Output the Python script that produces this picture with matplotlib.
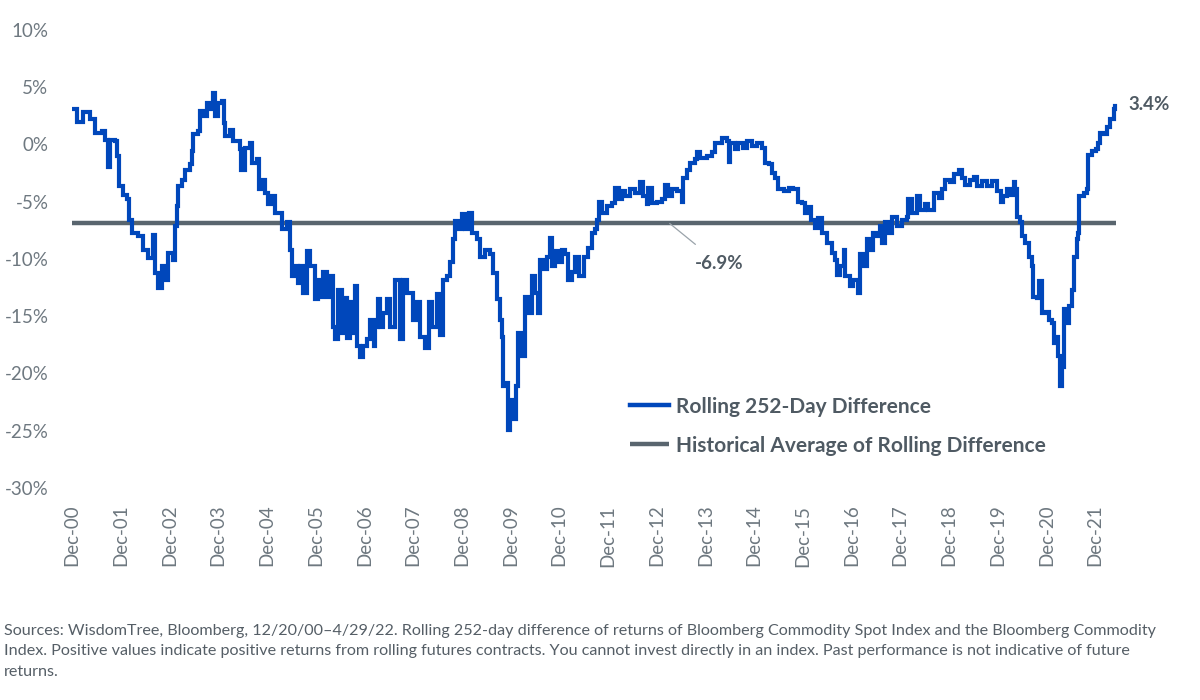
import matplotlib
matplotlib.use("Agg")
import matplotlib.pyplot as plt
import numpy as np

# ---- data (decimal year, rolling 252-day difference in %) ----
dates = [
    2000.98, 2001.07, 2001.20, 2001.34, 2001.44, 2001.58, 2001.65, 2001.70, 2001.75, 2001.85,
    2001.89, 2001.94, 2002.02, 2002.09, 2002.13, 2002.20, 2002.33, 2002.43, 2002.54, 2002.64,
    2002.67, 2002.74, 2002.81, 2002.88, 2002.95, 2003.05, 2003.09, 2003.12, 2003.15, 2003.22,
    2003.29, 2003.39, 2003.43, 2003.46, 2003.56, 2003.60, 2003.67, 2003.74, 2003.80, 2003.86,
    2003.91, 2003.97, 2004.04, 2004.08, 2004.11, 2004.21, 2004.28, 2004.42, 2004.44, 2004.52,
    2004.62, 2004.66, 2004.76, 2004.80, 2004.87, 2004.93, 2005.00, 2005.07, 2005.14, 2005.24,
    2005.28, 2005.38, 2005.45, 2005.48, 2005.55, 2005.60,
    2005.65, 2005.72, 2005.79, 2005.86, 2005.96, 2006.03, 2006.10, 2006.13, 2006.20, 2006.27,
    2006.32, 2006.37, 2006.44, 2006.51, 2006.58, 2006.61, 2006.68, 2006.71, 2006.78, 2006.82,
    2006.88, 2006.95, 2007.02, 2007.09, 2007.16, 2007.19, 2007.26, 2007.29, 2007.36, 2007.43,
    2007.50, 2007.60, 2007.70, 2007.77, 2007.84, 2007.91, 2007.98, 2008.05, 2008.12, 2008.22,
    2008.29, 2008.36, 2008.46, 2008.53, 2008.59, 2008.66, 2008.73, 2008.80, 2008.83, 2008.90,
    2008.97, 2009.04, 2009.11, 2009.18, 2009.28, 2009.35, 2009.45, 2009.55, 2009.62, 2009.69,
    2009.76, 2009.79, 2009.82, 2009.89, 2009.93, 2009.96, 2010.03, 2010.09, 2010.13, 2010.20,
    2010.27, 2010.34, 2010.41, 2010.48, 2010.53, 2010.58, 2010.65, 2010.72, 2010.79, 2010.82,
    2010.89, 2010.96, 2011.03, 2011.09, 2011.16,
    2011.23, 2011.30, 2011.37, 2011.47, 2011.57, 2011.64, 2011.71, 2011.74, 2011.78, 2011.85,
    2011.95, 2012.05, 2012.12, 2012.19, 2012.26, 2012.33, 2012.43, 2012.53, 2012.63, 2012.70,
    2012.77, 2012.80, 2012.87, 2012.98, 2013.08, 2013.15, 2013.21, 2013.28, 2013.39, 2013.49,
    2013.51, 2013.59, 2013.66, 2013.76, 2013.80, 2013.87, 2014.00, 2014.11, 2014.17, 2014.31,
    2014.41, 2014.45, 2014.48, 2014.58, 2014.65, 2014.75, 2014.82, 2014.93, 2015.03, 2015.13,
    2015.20, 2015.27, 2015.34, 2015.41, 2015.47, 2015.58, 2015.68, 2015.78, 2015.88, 2015.95,
    2016.02, 2016.08, 2016.15, 2016.23, 2016.29, 2016.36, 2016.47, 2016.57, 2016.64, 2016.67,
    2016.74, 2016.81, 2016.84, 2016.94, 2017.01, 2017.11, 2017.15, 2017.22, 2017.29, 2017.36,
    2017.42, 2017.49, 2017.56, 2017.60, 2017.66, 2017.73, 2017.80, 2017.90, 2018.01, 2018.11,
    2018.14, 2018.21, 2018.31, 2018.38, 2018.49, 2018.55, 2018.66, 2018.76, 2018.83, 2018.90,
    2019.00, 2019.07, 2019.17, 2019.24, 2019.31, 2019.41, 2019.48, 2019.55, 2019.65, 2019.76,
    2019.86, 2019.96, 2020.03, 2020.09, 2020.16, 2020.23, 2020.30, 2020.33, 2020.37, 2020.44,
    2020.47, 2020.54, 2020.61, 2020.68, 2020.70, 2020.78, 2020.83, 2020.88, 2020.95, 2021.02,
    2021.09, 2021.12, 2021.19, 2021.22, 2021.26, 2021.29, 2021.33, 2021.40, 2021.43, 2021.50,
    2021.53, 2021.60, 2021.63, 2021.65, 2021.74, 2021.80, 2021.82, 2021.91, 2021.98, 2022.04,
    2022.08, 2022.15, 2022.22, 2022.28, 2022.35, 2022.38,
]
rolling_diff = [
    3.1, 2.0, 2.8, 2.2, 1.0, 1.2, 0.4, -2.0, 0.4, 0.3,
    -1.0, -3.6, -4.4, -4.8, -6.6, -7.7, -8.0, -9.2, -9.9, -7.9,
    -11.2, -12.5, -10.6, -11.8, -9.5, -10.1, -7.1, -5.4, -3.6, -3.1,
    -2.2, -1.7, -0.6, 0.9, 1.2, 2.9, 2.5, 3.6, 3.1, 4.5,
    2.5, 3.6, 3.8, 1.9, 0.7, 1.3, 0.3, -0.4, -2.2, -0.3,
    0.1, -1.6, -1.3, -3.9, -3.1, -4.2, -5.2, -4.5, -6.0, -6.0,
    -7.4, -6.8, -9.2, -11.5, -10.6, -12.1,
    -10.6, -13.0, -9.3, -10.6, -13.5, -11.8, -13.3, -11.1, -13.3, -11.5,
    -15.9, -17.0, -12.7, -16.5, -13.4, -16.9, -13.8, -16.5, -12.4, -17.6,
    -18.6, -17.6, -17.0, -15.3, -17.6, -15.9, -13.5, -15.9, -14.7, -13.5,
    -15.9, -11.8, -17.0, -11.8, -13.0, -13.0, -15.3, -13.8, -16.8, -17.8,
    -13.8, -15.9, -13.1, -16.6, -11.8, -11.5, -10.3, -8.3, -6.7, -7.4,
    -6.1, -7.4, -6.0, -7.7, -8.3, -9.8, -9.2, -9.6, -11.2, -13.5,
    -15.3, -16.8, -21.1, -20.8, -24.9, -22.3, -24.0, -21.1, -16.5, -18.5,
    -13.3, -14.7, -11.5, -13.0, -14.7, -10.1, -10.9, -9.8, -8.2, -10.6,
    -9.3, -10.3, -9.2, -9.6, -11.8,
    -11.1, -9.8, -11.5, -9.8, -9.0, -7.7, -7.4, -6.6, -5.0, -6.0,
    -5.4, -5.1, -3.8, -4.8, -4.1, -4.5, -3.9, -4.2, -3.3, -4.5,
    -5.2, -3.8, -5.1, -5.0, -4.8, -3.5, -4.5, -3.9, -4.1, -5.0,
    -2.9, -2.2, -1.6, -1.3, -0.7, -1.2, -1.0, -0.7, 0.1, 0.6,
    0.3, -1.5, 0.1, -0.4, 0.1, -0.3, 0.3, -0.1, 0.1, -0.3,
    -1.6, -1.7, -2.5, -2.9, -3.9, -4.1, -3.8, -3.9, -5.0, -5.1,
    -6.0, -5.5, -6.6, -7.3, -6.4, -7.7, -8.6, -9.5, -10.1, -11.4,
    -10.6, -9.2, -11.5, -12.4, -11.8, -13.0, -9.6, -10.6, -8.3, -9.2,
    -7.7, -8.0, -7.1, -8.6, -6.8, -7.7, -6.3, -7.1, -6.6, -6.3,
    -4.8, -6.0, -4.5, -5.7, -5.2, -5.7, -4.2, -4.7, -3.9, -3.1,
    -3.3, -2.6, -2.2, -2.9, -3.5, -3.1, -2.8, -3.6, -3.2, -3.6,
    -3.2, -4.1, -5.0, -4.5, -3.9, -4.4, -3.3, -3.9, -6.3, -6.8,
    -8.0, -8.6, -9.8, -10.6, -13.3, -13.4, -11.9, -14.7, -14.6, -15.3,
    -15.6, -17.3, -16.8, -18.5, -21.1, -19.4, -14.4, -15.6, -14.1, -12.7,
    -9.8, -8.3, -7.7, -4.5, -4.2, -3.9, -0.9, -0.6, -0.4, 0.1,
    1.0, 0.9, 1.5, 2.2, 3.1, 3.4,
]
historical_avg = -6.9
tick_years = list(range(2000, 2022))
tick_labels = [f"Dec-{y % 100:02d}" for y in tick_years]
y_ticks = [10, 5, 0, -5, -10, -15, -20, -25, -30]
series_names = ["Rolling 252-Day Difference", "Historical Average of Rolling Difference"]
footnote = ("Sources: WisdomTree, Bloomberg, 12/20/00\u20134/29/22. Rolling 252-day difference of returns of Bloomberg Commodity Spot Index and the Bloomberg Commodity\n"
            "Index. Positive values indicate positive returns from rolling futures contracts. You cannot invest directly in an index. Past performance is not indicative of future\n"
            "returns.")

# ---- styling ----
BLUE = "#0047BB"
GREY_LINE = "#59656E"
TICK_GREY = "#6E7880"
TEXT_GREY = "#4F5A63"
plt.rcParams["font.family"] = ["Lato", "DejaVu Sans"]

fig = plt.figure(figsize=(12, 7), dpi=100)
ax = fig.add_axes([0.06, 0.3029, 0.872, 0.6543])

ax.plot(dates, rolling_diff, color=BLUE, lw=3.0, drawstyle="steps-post",
        solid_joinstyle="miter", zorder=3, label=series_names[0])
ax.hlines(historical_avg, dates[0] - 0.02, dates[-1] + 0.03, color=GREY_LINE, lw=3.2,
          zorder=2, label=series_names[1])

ax.set_ylim(-30, 10)
ax.set_xlim(2000.97, 2022.45)
ax.set_yticks(y_ticks)
ax.set_yticklabels([f"{v}%" for v in y_ticks])
ax.set_xticks([y + 0.97 for y in tick_years])
ax.set_xticklabels(tick_labels, rotation=90)
for s in ax.spines.values():
    s.set_visible(False)
ax.tick_params(axis="both", length=0, colors=TICK_GREY)
ax.tick_params(axis="y", pad=17, labelsize=13.5)
ax.tick_params(axis="x", pad=12, labelsize=13.5)

# end label
ax.annotate(f"{rolling_diff[-1]:.1f}%", xy=(dates[-1], rolling_diff[-1]),
            xytext=(10, 1), textcoords="offset points", ha="left", va="center",
            fontsize=13.5, fontweight="bold", color=TEXT_GREY)
# average label with leader line
ax.annotate(f"{historical_avg:.1f}%", xy=(2013.24, historical_avg),
            xytext=(2014.25, -10.4), textcoords="data", ha="center", va="center",
            fontsize=13.5, fontweight="bold", color=TEXT_GREY,
            arrowprops=dict(arrowstyle="-", color="#9AA3AA", lw=0.9,
                            shrinkA=9, shrinkB=0))

leg = ax.legend(loc="center left", bbox_to_anchor=(0.5335, 0.135), frameon=False,
                borderpad=0, borderaxespad=0,
                handlelength=1.85, handletextpad=0.35, labelspacing=0.9,
                prop={"size": 15, "weight": "bold"})
for t in leg.get_texts():
    t.set_color(TEXT_GREY)
for h in leg.get_lines():
    h.set_linewidth(3.2)

fig.text(0.003, 0.108, footnote, ha="left", va="top", fontsize=11.6,
         color="#555E66", linespacing=1.55)

fig.savefig("out.png", dpi=100, facecolor="white")
